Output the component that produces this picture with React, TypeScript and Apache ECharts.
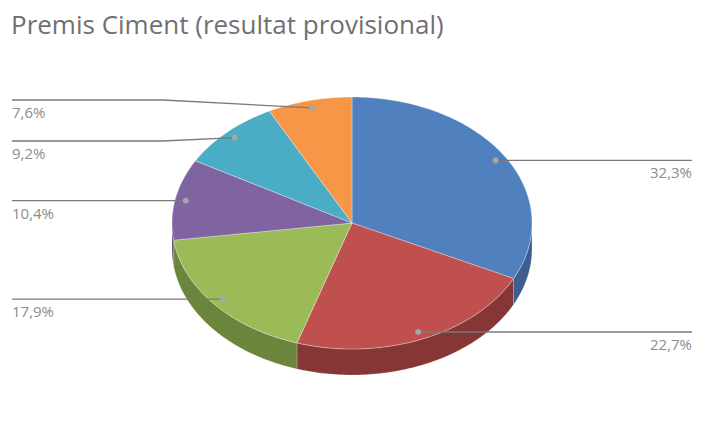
import React, { useEffect, useRef } from "react";
import * as echarts from "echarts";

const TITLE = "Premis Ciment (resultat provisional)";
const values = [32.3, 22.7, 17.9, 10.4, 9.2, 7.6];
const topColors = ["#5080bd", "#c0504d", "#9bbb59", "#8064a2", "#4bacc6", "#f79646"];
const sideColors = ["#3c5f8f", "#853635", "#6c853d", "#5b4775", "#347b8e", "#b56a30"];
// label placement: side of the chart and the y of the leader's horizontal run (null = dot height)
const labelSide = ["right", "right", "left", "left", "left", "left"];
const labelLineY: (number | null)[] = [null, null, null, null, 141, 100];

const CX = 352;
const CY = 223;
const RX = 180;
const RY = 126;
const DEPTH = 26;
const LEFT_X = 12;
const RIGHT_X = 692;
const BEND_X = 163;

function pt(deg: number, r = 1, dy = 0): number[] {
  const t = (deg * Math.PI) / 180;
  return [CX + RX * r * Math.sin(t), CY - RY * r * Math.cos(t) + dy];
}

function arc(a: number, b: number, dy = 0): number[][] {
  const pts: number[][] = [];
  const n = Math.max(2, Math.ceil(Math.abs(b - a) / 1));
  for (let i = 0; i <= n; i++) pts.push(pt(a + ((b - a) * i) / n, 1, dy));
  return pts;
}

export default function App() {
  const ref = useRef<HTMLDivElement>(null);
  useEffect(() => {
    document.body.style.margin = "0";
    if (!ref.current) return;
    const chart = echarts.init(ref.current, null, { renderer: "svg" });
    const total = values.reduce((s, v) => s + v, 0);
    const starts: number[] = [];
    let acc = 0;
    values.forEach((v) => {
      starts.push((acc / total) * 360);
      acc += v;
    });

    const renderSlice = (params: any) => {
      const i = params.dataIndex;
      const a = starts[i];
      const b = a + (values[i] / total) * 360;
      const children: any[] = [];
      const sa = Math.max(a, 90);
      const sb = Math.min(b, 270);
      if (sb > sa) {
        const top = arc(sa, sb);
        const bot = arc(sa, sb, DEPTH).reverse();
        children.push({
          type: "polygon",
          shape: { points: top.concat(bot) },
          style: { fill: sideColors[i], stroke: "rgba(255,255,255,0.35)", lineWidth: 0.6 },
        });
      }
      children.push({
        type: "polygon",
        shape: { points: [[CX, CY]].concat(arc(a, b)) },
        style: {
          fill: topColors[i],
          stroke: "rgba(255,255,255,0.45)",
          lineWidth: 0.7,
        },
      });
      return { type: "group", children };
    };

    const renderLabel = (params: any) => {
      const i = params.dataIndex;
      const a = starts[i];
      const mid = a + (values[i] / total) * 180;
      const dot = pt(mid, 0.94);
      const ly = labelLineY[i] == null ? dot[1] : (labelLineY[i] as number);
      const right = labelSide[i] === "right";
      const pts = right
        ? [dot, [RIGHT_X, ly]]
        : [dot, [BEND_X, ly], [LEFT_X, ly]];
      const text = values[i].toFixed(1).replace(".", ",") + "%";
      return {
        type: "group",
        children: [
          {
            type: "polyline",
            shape: { points: pts },
            style: { stroke: "#7a7a7a", lineWidth: 1.3, fill: null },
          },
          {
            type: "circle",
            shape: { cx: dot[0], cy: dot[1], r: 3 },
            style: { fill: "#a6a6a6" },
          },
          {
            type: "text",
            style: {
              text,
              x: right ? RIGHT_X : LEFT_X,
              y: ly + 12,
              align: right ? "right" : "left",
              verticalAlign: "middle",
              fill: "#8c8c8c",
              font: '15px "Open Sans"',
            },
          },
        ],
      };
    };

    chart.setOption({
      animation: false,
      backgroundColor: "#ffffff",
      title: {
        text: TITLE,
        left: 11,
        top: 11,
        padding: 0,
        textStyle: {
          fontFamily: "Open Sans",
          fontSize: 26,
          fontWeight: "normal",
          color: "#707070",
        },
      },
      series: [
        {
          type: "custom",
          coordinateSystem: "none",
          silent: true,
          data: values,
          renderItem: renderSlice,
        },
        {
          type: "custom",
          coordinateSystem: "none",
          silent: true,
          z: 5,
          data: values,
          renderItem: renderLabel,
        },
      ],
    });
    return () => chart.dispose();
  }, []);
  return <div ref={ref} style={{ width: 705, height: 429 }} />;
}
